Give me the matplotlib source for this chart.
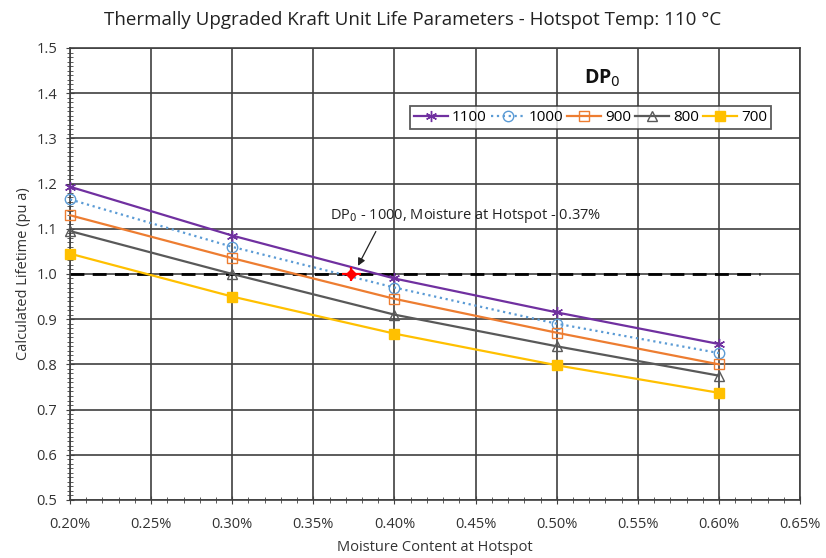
import matplotlib
matplotlib.use("Agg")
import matplotlib.pyplot as plt
from matplotlib.ticker import MultipleLocator, FuncFormatter

moisture = [0.20, 0.30, 0.40, 0.50, 0.60]
series_names = ["1100", "1000", "900", "800", "700"]
life_1100 = [1.193, 1.085, 0.990, 0.915, 0.845]
life_1000 = [1.165, 1.060, 0.970, 0.890, 0.825]
life_900 = [1.130, 1.035, 0.945, 0.870, 0.800]
life_800 = [1.095, 1.000, 0.910, 0.840, 0.775]
life_700 = [1.045, 0.950, 0.868, 0.798, 0.737]
ref_x = [0.20, 0.625]
ref_y = [1.0, 1.0]
point_x = 0.3735
point_y = 1.0

plt.rcParams['font.family'] = ['Open Sans', 'DejaVu Sans']
fig = plt.figure(figsize=(8.26, 5.58), dpi=100)
ax = fig.add_axes([0.0847, 0.104, 0.884, 0.810])

styles = [
    dict(color="#7030A0", marker=(6, 2, 0), ms=8, mfc="#7030A0", ls="-", lw=1.6),
    dict(color="#5B9BD5", marker="o", ms=7.5, mfc="none", ls=":", lw=1.6),
    dict(color="#ED7D31", marker="s", ms=7.5, mfc="none", ls="-", lw=1.6),
    dict(color="#595959", marker="^", ms=6.5, mfc="none", ls="-", lw=1.6),
    dict(color="#FFC000", marker="s", ms=7.5, mfc="#FFC000", ls="-", lw=1.6),
]
data = [life_1100, life_1000, life_900, life_800, life_700]
for name, vals, st in zip(series_names, data, styles):
    ax.plot(moisture, vals, label=name, zorder=3, clip_on=False, **st)

ax.plot(ref_x, ref_y, color="black", ls=(0, (5, 3)), lw=2, zorder=2)
ax.errorbar([point_x], [point_y], xerr=0.006, yerr=0.016, color="red", lw=1.6, capsize=0, zorder=4)
ax.plot([point_x], [point_y], marker="D", color="red", ms=5.5, zorder=4)

ax.annotate("", xy=(0.3775, 1.018), xytext=(0.3885, 1.094),
            arrowprops=dict(arrowstyle="-|>", color="#222222", lw=0.9, shrinkA=0, shrinkB=0, mutation_scale=11))
ax.text(0.36, 1.128, "DP$_0$ - 1000, Moisture at Hotspot - 0.37%", fontsize=10.5, color="#222222",
        ha="left", va="center")

ax.set_xlim(0.20, 0.65)
ax.set_ylim(0.5, 1.5)
ax.xaxis.set_major_locator(MultipleLocator(0.05))
ax.xaxis.set_minor_locator(MultipleLocator(0.01))
ax.yaxis.set_major_locator(MultipleLocator(0.1))
ax.yaxis.set_minor_locator(MultipleLocator(0.01))
ax.xaxis.set_major_formatter(FuncFormatter(lambda v, p: f"{v:.2f}%"))
ax.yaxis.set_major_formatter(FuncFormatter(lambda v, p: f"{v:.1f}"))
ax.grid(True, which="major", color="#404040", lw=1.2)
ax.tick_params(which="both", direction="inout", colors="#404040", labelcolor="#333333", labelsize=10.5)
ax.tick_params(which="major", length=6, pad=6)
ax.tick_params(which="minor", length=5)
ax.tick_params(axis="x", which="major", pad=9)
for s in ax.spines.values():
    s.set_color("#404040")
    s.set_linewidth(1.2)

ax.set_xlabel("Moisture Content at Hotspot", fontsize=10.5, color="#333333", labelpad=6)
ax.set_ylabel("Calculated Lifetime (pu a)", fontsize=10.5, color="#333333")
fig.text(0.5, 0.965, "Thermally Upgraded Kraft Unit Life Parameters - Hotspot Temp: 110 °C",
         ha="center", va="center", fontsize=13.5, color="#222222")

leg = ax.legend(loc="upper left", bbox_to_anchor=(0.466, 0.871), ncol=5, frameon=True,
                fontsize=11, handlelength=2.2, columnspacing=0.3, handletextpad=0.25,
                borderpad=0.25, borderaxespad=0, fancybox=False, edgecolor="#333333")
leg.get_frame().set_linewidth(1.3)
ax.text(0.528, 1.433, "DP$_0$", fontsize=14, fontweight="bold", ha="center", va="center", color="#111111")

fig.savefig("out.png", dpi=100)
